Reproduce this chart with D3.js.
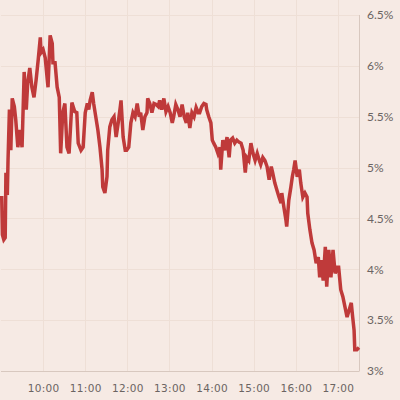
<!DOCTYPE html>
<html>
<head>
<meta charset="utf-8">
<script src="https://cdn.jsdelivr.net/npm/d3@7"></script>
<style>
  html, body { margin: 0; padding: 0; background: #f6eae4; }
  svg { display: block; }
  .xlab { font-family: "DejaVu Sans", sans-serif; font-size: 10.5px; fill: #6b6462; letter-spacing: 0.3px; }
  .ylab { font-family: Lato, sans-serif; font-size: 12px; fill: #6b6462; }
</style>
</head>
<body>
<svg></svg>
<script>
// Data (time of day, yield %)
const times = ["09:01","09:02","09:04","09:06","09:07","09:09","09:10","09:12","09:14","09:16",
  "09:19","09:21","09:24","09:27","09:30","09:33","09:36","09:38","09:41","09:44",
  "09:47","09:50","09:53","09:56","09:57","10:00","10:03","10:06","10:07","10:10",
  "10:13","10:14","10:17","10:20","10:23","10:25","10:28","10:31","10:34","10:37",
  "10:41","10:45","10:48","10:50","10:54","10:57","11:00","11:03","11:05","11:07",
  "11:10","11:12","11:15","11:18","11:21","11:24","11:25","11:28","11:31","11:32",
  "11:35","11:38","11:41","11:44","11:47","11:50","11:51","11:54","11:57","11:59",
  "12:02","12:05","12:08","12:11","12:14","12:17","12:19","12:22","12:25","12:28",
  "12:29","12:32","12:35","12:38","12:41","12:44","12:46","12:49","12:52","12:55",
  "12:58","13:01","13:04","13:06","13:09","13:12","13:15","13:18","13:21","13:24",
  "13:26","13:29","13:32","13:35","13:38","13:41","13:43","13:46","13:49","13:52",
  "13:53","13:56","13:59","14:01","14:03","14:06","14:09","14:12","14:13","14:16",
  "14:19","14:22","14:25","14:27","14:30","14:33","14:36","14:39","14:42","14:45",
  "14:48","14:50","14:53","14:56","14:59","15:02","15:05","15:08","15:10","15:13",
  "15:16","15:19","15:22","15:25","15:27","15:30","15:33","15:36","15:39","15:40",
  "15:43","15:46","15:47","15:50","15:53","15:55","15:57","15:59","16:02","16:05",
  "16:07","16:10","16:13","16:16","16:17","16:20","16:23","16:26","16:29","16:32",
  "16:34","16:36","16:39","16:42","16:44","16:47","16:50","16:53","16:56","16:59",
  "17:01","17:04","17:07","17:10","17:13","17:16","17:19","17:21","17:23","17:24",
  "17:27","17:30"];
const values = [4.72,4.34,4.29,4.31,4.95,4.73,5.07,5.57,5.17,5.68,
  5.60,5.47,5.20,5.37,5.20,5.94,5.57,5.83,5.98,5.79,
  5.69,5.86,6.06,6.28,6.13,6.16,6.08,5.86,5.79,6.30,
  6.22,6.03,6.03,5.79,5.69,5.14,5.54,5.63,5.20,5.14,
  5.64,5.55,5.54,5.24,5.17,5.20,5.54,5.63,5.57,5.66,
  5.74,5.63,5.50,5.37,5.20,4.98,4.81,4.75,4.91,5.17,
  5.40,5.47,5.50,5.30,5.44,5.60,5.66,5.30,5.17,5.17,
  5.20,5.44,5.54,5.50,5.63,5.50,5.54,5.37,5.50,5.54,
  5.68,5.63,5.54,5.63,5.62,5.60,5.66,5.57,5.68,5.55,
  5.60,5.54,5.44,5.50,5.62,5.57,5.50,5.62,5.50,5.44,
  5.54,5.39,5.54,5.50,5.59,5.54,5.54,5.60,5.63,5.62,
  5.57,5.50,5.44,5.27,5.24,5.20,5.14,5.20,4.98,5.27,
  5.17,5.30,5.10,5.27,5.29,5.24,5.27,5.25,5.24,5.17,
  4.95,5.10,5.07,5.24,5.14,5.07,5.14,5.07,5.03,5.10,
  5.07,5.01,4.88,5.01,4.95,4.85,4.78,4.71,4.65,4.75,
  4.61,4.48,4.42,4.68,4.81,4.91,4.98,5.07,4.91,4.98,
  4.85,4.71,4.75,4.71,4.55,4.39,4.26,4.19,4.06,4.12,
  3.92,4.09,3.89,4.22,3.83,4.19,3.92,4.19,3.96,4.02,
  4.02,3.80,3.73,3.63,3.53,3.60,3.67,3.53,3.40,3.21,
  3.21,3.23];

const xTicks = ["10:00","11:00","12:00","13:00","14:00","15:00","16:00","17:00"];
const yTicks = [3, 3.5, 4, 4.5, 5, 5.5, 6, 6.5];
const xDomain = ["09:00", "17:30"];

const width = 400, height = 400;
const parse = d3.timeParse("%H:%M");
const data = times.map((t, i) => ({ t: parse(t), v: values[i] }));

const svg = d3.select("svg").attr("width", width).attr("height", height);

const x = d3.scaleTime().domain(xDomain.map(parse)).range([1, 359]);
const y = d3.scaleLinear().domain([3, 6.5]).range([371, 15]);

// vertical grid
svg.append("g").selectAll("line")
  .data(xTicks.map(parse))
  .enter().append("line")
  .attr("x1", d => Math.round(x(d)) + 0.5).attr("x2", d => Math.round(x(d)) + 0.5)
  .attr("y1", 0).attr("y2", y(3))
  .attr("stroke", "#eedfd6").attr("stroke-width", 1);

// horizontal grid
svg.append("g").selectAll("line")
  .data(yTicks.filter(d => d > 3))
  .enter().append("line")
  .attr("x1", 1).attr("x2", x.range()[1])
  .attr("y1", d => Math.round(y(d)) + 0.5).attr("y2", d => Math.round(y(d)) + 0.5)
  .attr("stroke", "#eedfd6").attr("stroke-width", 1);

// axis lines
svg.append("line")
  .attr("x1", 1).attr("x2", x.range()[1] + 0.5)
  .attr("y1", Math.round(y(3)) + 0.5).attr("y2", Math.round(y(3)) + 0.5)
  .attr("stroke", "#d8c8bf");
svg.append("line")
  .attr("x1", x.range()[1] + 0.5).attr("x2", x.range()[1] + 0.5)
  .attr("y1", y(6.5)).attr("y2", y(3))
  .attr("stroke", "#d8c8bf");

// x labels
const xAxis = svg.append("g")
  .attr("transform", `translate(0,${y(3)})`)
  .call(d3.axisBottom(x).tickValues(xTicks.map(parse)).tickFormat(d3.timeFormat("%H:%M")).tickSize(0).tickPadding(14));
xAxis.select(".domain").remove();
xAxis.selectAll("text").attr("class", "xlab").attr("fill", null).attr("font-family", null).attr("font-size", null);
xAxis.attr("font-family", null).attr("font-size", null);

// y labels
const yAxis = svg.append("g")
  .attr("transform", `translate(${x.range()[1]},0)`)
  .call(d3.axisRight(y).tickValues(yTicks).tickFormat(d => d + "%").tickSize(0).tickPadding(8));
yAxis.select(".domain").remove();
yAxis.selectAll("text").attr("class", "ylab").attr("fill", null);
yAxis.attr("font-family", null).attr("font-size", null);

// the line
const line = d3.line().x(d => x(d.t)).y(d => y(d.v));
svg.append("path")
  .datum(data)
  .attr("fill", "none")
  .attr("stroke", "#bf3a3a")
  .attr("stroke-width", 3.5)
  .attr("stroke-linejoin", "miter")
  .attr("d", line);
</script>
</body>
</html>
